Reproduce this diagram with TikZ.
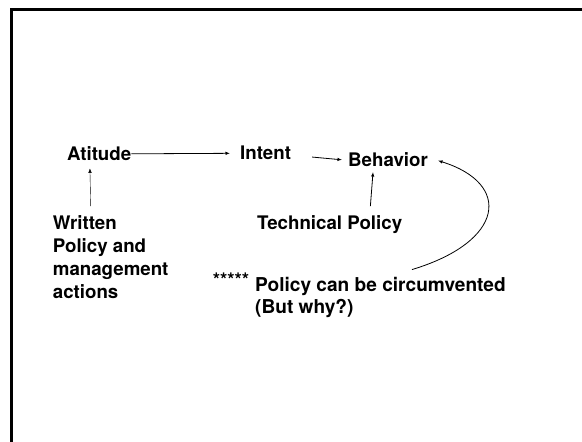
\documentclass[tikz,border=0pt]{standalone}
\usepackage{fontspec}
\setmainfont{TeX Gyre Heros}
\usepackage{tikz}
\usetikzlibrary{arrows.meta}

\begin{document}
\begin{tikzpicture}[x=1pt,y=1pt,>={Latex[length=4.5pt,width=3.5pt]}]
\tikzset{lbl/.style={font=\bfseries\fontsize{18.7}{23}\selectfont,inner sep=0pt,align=left,anchor=base west},
  arr/.style={->,line width=0.8pt}}
\useasboundingbox (0,0) rectangle (582,442);
\clip (0,0) rectangle (582,442);
% slide frame, open to the right and bottom
\draw[line width=3.5pt] (11.7,-10) -- (11.7,432.5) -- (600,432.5);
\node[lbl] (att) at (67,281.3) {Atitude};
\node[lbl] (int) at (240,282) {Intent};
\node[lbl] (beh) at (348,275.3) {Behavior};
\node[lbl] (tech) at (257,212) {Technical Policy};
% multi-line nodes sit on their last baseline
\node[lbl] (wrt) at (52.7,143) {Written\\Policy and\\management\\actions};
\node[lbl] (stars) at (212.7,155.6) {*****};
\node[lbl,font=\bfseries\fontsize{19.1}{21.5}\selectfont] (circ) at (255,128.5) {Policy can be circumvented\\(But why?)};
\draw[arr] (att.east) -- (int.west) [shorten >=10pt];
\draw[arr] ([xshift=21pt,yshift=-3.8pt]int.east) -- ([xshift=-6pt]beh.west);
\draw[arr] ([xshift=40.7pt,yshift=9.7pt]tech.north) -- ([xshift=-15pt,yshift=-5pt]beh.south);
\draw[->,line width=0.4pt] ([xshift=38pt,yshift=9.7pt]wrt.north west) -- ([xshift=-9.3pt,yshift=-7.3pt]att.south);
\draw[arr] ([xshift=157pt,yshift=8pt]circ.north west) .. controls +(93,28) and +(74,-23) .. ([xshift=10pt,yshift=-0.8pt]beh.east);
\end{tikzpicture}
\end{document}
